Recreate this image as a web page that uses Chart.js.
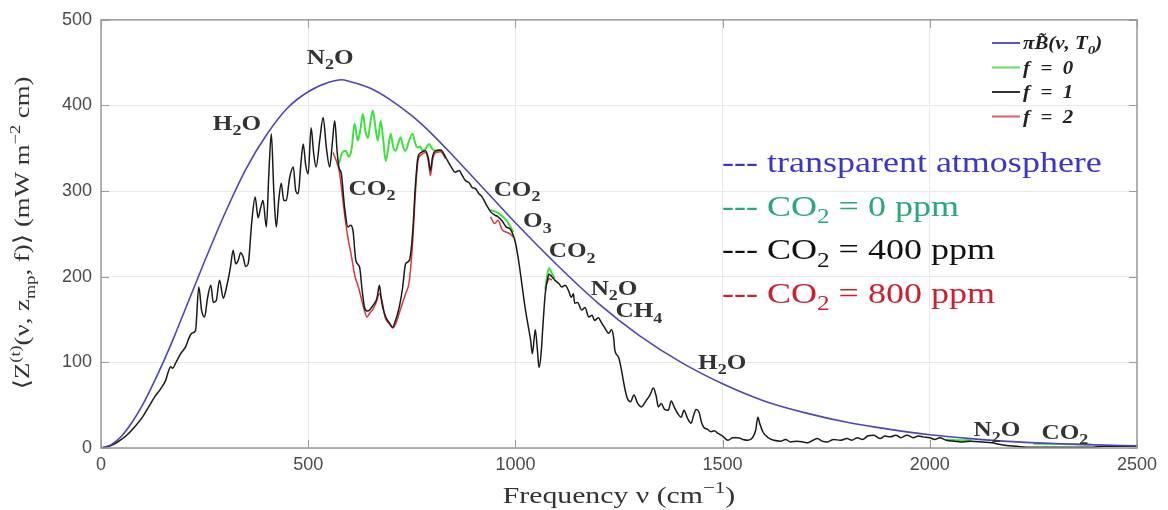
<!DOCTYPE html>
<html>
<head>
<meta charset="utf-8">
<title>Outgoing spectral flux</title>
<script src="https://cdn.jsdelivr.net/npm/chart.js@4.4.0/dist/chart.umd.min.js"></script>
<style>
  html,body{margin:0;padding:0;background:#fff}
  canvas{display:block}
</style>
</head>
<body>
<canvas id="spectrum" width="1168" height="510"></canvas>
<script>
// values, wavenumber in cm^-1, flux in mW m^-2 cm

// transparent atmosphere (pi*B at surface temperature)
const planckNu  = [0,25,50,75,100,125,150,175,200,250,300,350,400,450,500,550,580,600,650,700,750,800,850,900,950,1000,1100,1200,1300,1400,1500,1600,1700,1800,1900,2000,2100,2200,2300,2400,2500];
const planckVal = [0,4,14,30,50,74,100,128,158,218,275,326,366,397,416,427,430,428,420,406,388,366,341,315,289,263,214,169,131,100,75,55,41,30,22,15.5,11,7.5,5.2,3.6,2.5];

// f = 1 (CO2 = 400 ppm)
const f1Nu = [0,20,40,60,80,100,115,130,145,156,163,168,173,180,192,204,212,219,228,236,243,250,257,265,271,278,286,295,303,312,319,325,331,337,343,349,355,364,372,379,385,391,399,405,411,417,423,429,435,441,447,455,464,470,476,482,488,494,500,507,513,519,528,536,544,552,558,564,570,574,580,588,596,602,608,615,624,630,636,642,648,654,660,666,672,676,680,688,696,704,710,716,722,728,735,744,752,759,765,772,783,790,795,800,807,820,831,843,855,864,872,880,888,896,903,912,920,930,940,950,958,968,978,987,995,1000,1008,1016,1023,1030,1037,1041,1048,1053,1057,1062,1066,1072,1078,1081,1088,1095,1105,1112,1120,1128,1135,1140,1143,1150,1160,1168,1177,1185,1191,1200,1208,1216,1225,1232,1237,1240,1249,1256,1263,1270,1278,1286,1295,1304,1315,1325,1333,1340,1345,1352,1360,1369,1376,1383,1392,1400,1407,1415,1424,1430,1436,1443,1449,1455,1463,1472,1480,1489,1500,1513,1525,1537,1549,1561,1572,1580,1585,1590,1597,1610,1624,1640,1652,1664,1680,1695,1705,1718,1729,1740,1753,1768,1784,1800,1812,1825,1838,1850,1865,1880,1892,1905,1918,1930,1945,1960,1972,1984,2000,2012,2024,2040,2060,2080,2100,2128,2150,2170,2185,2210,2233,2260,2300,2350,2392,2420,2450,2500];
const f1Val = [0,2,7,14,24,36,48,60,70,79,90,95,93,99,110,118,128,134,137,188,160,153,175,190,170,172,196,175,188,210,231,215,219,228,223,212,215,265,293,269,280,289,258,320,367,300,258,290,309,289,289,315,328,300,297,330,355,330,320,374,345,328,360,386,350,328,355,382,345,328,320,280,258,260,254,219,211,185,164,160,161,165,169,175,190,175,164,152,146,141,148,157,170,188,215,219,251,309,340,345,347,338,324,340,347,348,340,330,322,324,318,312,310,304,303,297,293,284,276,272,270,265,258,256,248,240,218,190,165,145,125,110,138,115,94,110,140,180,198,203,200,196,192,188,190,184,176,180,169,170,161,164,153,155,149,152,146,140,134,138,129,114,106,91,72,58,54,62,52,48,55,62,70,60,48,52,45,44,55,48,40,36,44,35,29,38,45,42,30,24,22,19,20,17,14,9,12,12,10,9,12,21,36,28,19,12,9,8,10,7,8,7,6,9,11,8,7,10,9,11,9,12,10,14,15,11,14,13,15,12,15,12,14,13,12,10,12,9,8,7,8,7,6,4,3,2,1,1,1,1,1,2,2,2];

// f = 0 (CO2 = 0 ppm), only where it departs from f = 1
const f0Nu  = [570,576,582,591,598,605,612,617,620,626,632,638,644,650,656,662,668,675,681,687,693,699,705,711,717,723,729,735,743,752,758,764,770,776,784,792,800,808,820,null,940,960,980,995,null,1072,1078,1082,1088,1095,null,2040,2070,2100,null,2250,2290,2330,2370,2390];
const f0Val = [330,335,345,347,340,350,379,365,359,372,390,370,362,380,394,375,359,382,360,335,350,367,352,347,355,363,352,347,358,367,356,351,352,347,350,355,349,347,348,null,278,274,265,252,null,185,205,210,204,198,null,10,9,9,null,5,5,4.5,4,4];

// f = 2 (CO2 = 800 ppm), only where it departs from f = 1
const f2Nu  = [560,568,574,580,588,596,604,613,620,628,636,642,648,656,664,672,678,686,696,704,712,720,728,735,744,752,759,765,772,783,790,795,800,808,820,831,null,940,950,958,968,978,987,995,null,1076,1081,1088];
const f2Val = [345,335,326,305,272,245,225,200,190,175,160,153,157,162,170,180,172,152,145,140,146,158,170,180,195,240,300,336,342,345,335,318,336,345,346,338,null,270,262,266,255,252,250,246,null,192,198,196];

const xTicks = [0,500,1000,1500,2000,2500];
const yTicks = [0,100,200,300,400,500];

// absorber labels: text, wavenumber, flux
const bandLabels = [
  ['N_2O', 553, 457],
  ['H_2O', 328, 380],
  ['CO_2', 654, 304],
  ['CO_2', 1004, 303],
  ['O_3', 1053, 266],
  ['CO_2', 1137, 231],
  ['N_2O', 1238, 187],
  ['CH_4', 1298, 161],
  ['H_2O', 1499, 101],
  ['N_2O', 2162, 22],
  ['CO_2', 2326, 19]
];

const bigLegend = [
  ['--- transparent atmosphere', '#3b36c8'],
  ['--- CO_2 = 0 ppm', '#2aa878'],
  ['--- CO_2 = 400 ppm', '#111111'],
  ['--- CO_2 = 800 ppm', '#cc2030']
];
const smallLegend = [
  ['\u03c0B\u0303(\u03bd, T_0)', '#5a55c8'],
  ['f  =  0', '#66dd66'],
  ['f  =  1', '#333333'],
  ['f  =  2', '#d9606a']
];

function pts(xs, ys){
  return xs.map((v,i)=> v===null ? {x:null,y:null} : {x:v, y:ys[i]});
}

// split "CO_2" / "cm^{-1}" into plain, sub and sup pieces
function richParts(str){
  const parts = []; let buf = ''; let i = 0;
  const flush = ()=>{ if(buf){ parts.push({t:buf, k:0}); buf=''; } };
  while(i < str.length){
    const c = str[i];
    if((c==='_' || c==='^') && i+1 < str.length){
      flush();
      let t;
      if(str[i+1]==='{'){ const j = str.indexOf('}', i+2); t = str.slice(i+2, j); i = j+1; }
      else { t = str[i+1]; i += 2; }
      parts.push({t, k: c==='_' ? 1 : -1});
    } else { buf += c; i++; }
  }
  flush();
  return parts;
}

function drawRich(ctx, str, x, y, o){
  const parts = richParts(str);
  const fontFor = k => `${o.style||''} ${k ? Math.round(o.size*0.7) : o.size}px ${o.family}`;
  let w = 0;
  for(const p of parts){ ctx.font = fontFor(p.k); p.w = ctx.measureText(p.t).width; w += p.w; }
  ctx.save();
  ctx.translate(x, y);
  if(o.rot) ctx.rotate(o.rot);
  ctx.scale(o.sx || 1, 1);
  let cx = o.align==='center' ? -w/2 : (o.align==='right' ? -w : 0);
  ctx.fillStyle = o.color; ctx.textAlign = 'left'; ctx.textBaseline = 'alphabetic';
  for(const p of parts){
    ctx.font = fontFor(p.k);
    const dy = p.k===1 ? o.size*0.26 : (p.k===-1 ? -o.size*0.42 : 0);
    ctx.fillText(p.t, cx, dy);
    cx += p.w;
  }
  ctx.restore();
}

const SERIF = "'Liberation Serif', 'DejaVu Serif', serif";

const decor = {
  id: 'decor',
  afterDatasetsDraw(chart){
    const {ctx, chartArea: a, scales: {x, y}} = chart;
    ctx.save();
    // box and inward ticks
    ctx.strokeStyle = '#9a9a9a'; ctx.lineWidth = 1.5;
    ctx.strokeRect(a.left, a.top, a.right - a.left, a.bottom - a.top);
    ctx.lineWidth = 1;
    for(const v of yTicks){
      const py = Math.round(y.getPixelForValue(v)) + 0.5;
      ctx.beginPath(); ctx.moveTo(a.left, py); ctx.lineTo(a.left + 8, py);
      ctx.moveTo(a.right, py); ctx.lineTo(a.right - 8, py); ctx.stroke();
    }
    for(const v of xTicks){
      const px = Math.round(x.getPixelForValue(v)) + 0.5;
      ctx.beginPath(); ctx.moveTo(px, a.bottom); ctx.lineTo(px, a.bottom - 8);
      ctx.moveTo(px, a.top); ctx.lineTo(px, a.top + 8); ctx.stroke();
    }
    ctx.restore();

    for(const [txt, nu, val] of bandLabels){
      drawRich(ctx, txt, x.getPixelForValue(nu), y.getPixelForValue(val) + 7,
        {size: 21, family: SERIF, style: 'bold', color: '#333', align: 'center', sx: 1.2});
    }

    bigLegend.forEach(([txt, col], i)=>{
      drawRich(ctx, txt, 722, 172 + i*43.5, {size: 30, family: SERIF, color: col, align: 'left', sx: 1.2});
    });

    ctx.save();
    smallLegend.forEach(([txt, col], i)=>{
      const py = 43 + i*24.5;
      ctx.strokeStyle = col; ctx.lineWidth = 2;
      ctx.beginPath(); ctx.moveTo(992, py); ctx.lineTo(1020, py); ctx.stroke();
      drawRich(ctx, txt, 1023, py + 6, {size: 18, family: SERIF, style: 'italic bold', color: '#222', align: 'left', sx: 1.16});
    });
    ctx.restore();

    // axis titles
    drawRich(ctx, 'Frequency \u03bd (cm^{\u22121})', (a.left + a.right)/2, 503,
      {size: 24, family: SERIF, color: '#333', align: 'center', sx: 1.24});
    drawRich(ctx, '\u27e8Z^{(t)}(\u03bd, z_{mp}, f)\u27e9 (mW m^{\u22122} cm)', 29, 233,
      {size: 22, family: SERIF, color: '#333', align: 'center', sx: 1.22, rot: -Math.PI/2});
  }
};

const lineBase = {pointRadius: 0, fill: false, cubicInterpolationMode: 'monotone', spanGaps: false};

new Chart(document.getElementById('spectrum'), {
  type: 'line',
  data: {
    datasets: [
      Object.assign({label: 'transparent atmosphere', data: pts(planckNu, planckVal), borderColor: '#4b47b5', borderWidth: 1.6}, lineBase),
      Object.assign({label: 'f = 1', data: pts(f1Nu, f1Val), borderColor: '#1a1a1a', borderWidth: 1.5}, lineBase),
      Object.assign({label: 'f = 2', data: pts(f2Nu, f2Val), borderColor: '#d9343f', borderWidth: 1.5}, lineBase),
      Object.assign({label: 'f = 0', data: pts(f0Nu, f0Val), borderColor: '#3fe03f', borderWidth: 2}, lineBase)
    ]
  },
  options: {
    responsive: false,
    animation: false,
    layout: {padding: {top: 19, right: 31, left: 0, bottom: 0}},
    plugins: {legend: {display: false}, tooltip: {enabled: false}},
    events: [],
    scales: {
      x: {
        type: 'linear', min: 0, max: 2500,
        afterFit: s => { s.height = 62; },
        afterBuildTicks: s => { s.ticks = xTicks.map(v => ({value: v})); },
        ticks: {font: {family: "'Liberation Sans', Arial, sans-serif", size: 18}, color: '#4a4a4a', padding: 6, maxRotation: 0,
                callback: v => String(v)},
        grid: {color: '#e8e8e8', drawTicks: false},
        border: {display: false}
      },
      y: {
        type: 'linear', min: 0, max: 500,
        afterFit: s => { s.width = 101; },
        afterBuildTicks: s => { s.ticks = yTicks.map(v => ({value: v})); },
        ticks: {font: {family: "'Liberation Sans', Arial, sans-serif", size: 18}, color: '#4a4a4a', padding: 9,
                callback: v => String(v)},
        grid: {color: '#e8e8e8', drawTicks: false},
        border: {display: false}
      }
    }
  },
  plugins: [decor]
});
</script>
</body>
</html>
